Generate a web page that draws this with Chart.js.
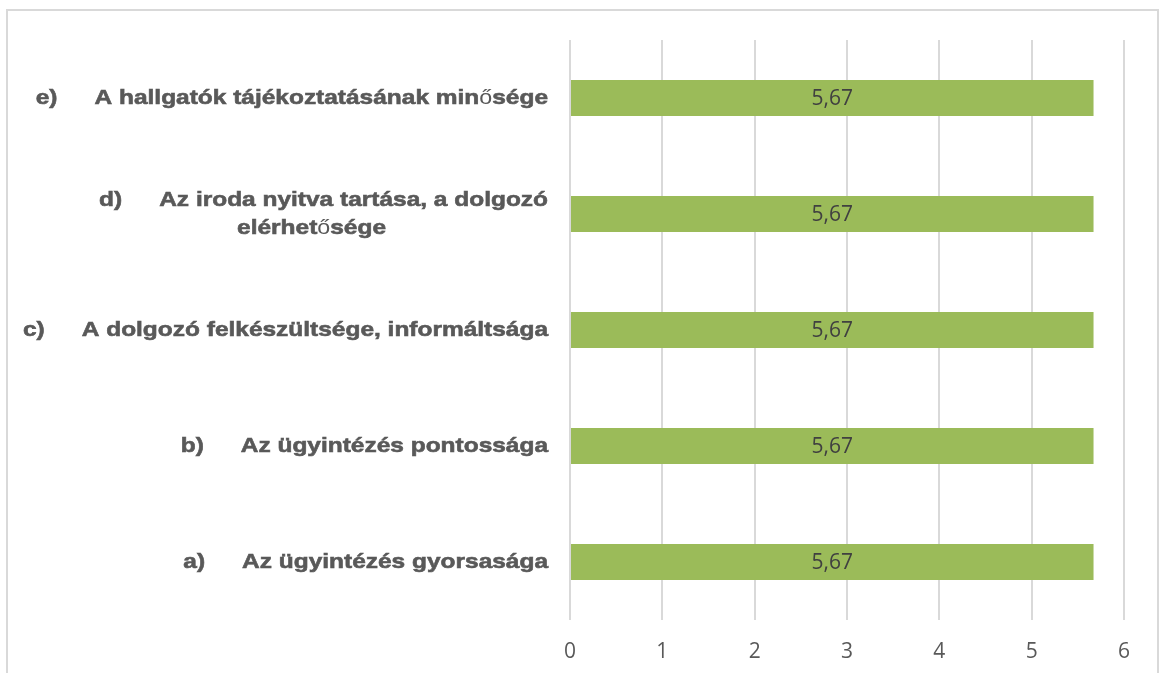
<!DOCTYPE html>
<html><head><meta charset="utf-8">
<script src="https://cdn.jsdelivr.net/npm/chart.js@4"></script>
<style>
html,body{margin:0;padding:0;background:#fff;overflow:hidden}
#wrap{position:relative;width:1159px;height:673px;overflow:hidden}
#frame{position:absolute;left:6px;top:9px;width:1153px;height:720px;border:2px solid #d9d9d9;box-sizing:border-box}
canvas{position:absolute;left:0;top:0}
</style></head><body>
<div id="wrap"><div id="frame"></div><canvas id="c" width="1159" height="673"></canvas></div>
<script>
// ---- data ----
const prefixes = ['a)', 'b)', 'c)', 'd)', 'e)'];
const labelLines = [
  ['Az ügyintézés gyorsasága'],
  ['Az ügyintézés pontossága'],
  ['A dolgozó felkészültsége, informáltsága'],
  ['Az iroda nyitva tartása, a dolgozó', 'elérhetősége'],
  ['A hallgatók tájékoztatásának minősége']
];
const values = [5.67, 5.67, 5.67, 5.67, 5.67];
const xMin = 0, xMax = 6, xStep = 1;

const categories = prefixes.map((p, i) => p + ' ' + labelLines[i].join(' '));

const BOLD = 'bold 21px "Liberation Sans"';
const REG = '20px "Liberation Sans"';
const SX = 1.165;
const LABEL_COLOR = '#595959';

function segs(s) {
  const out = [];
  let cur = '';
  for (const ch of s) {
    if (ch === 'ő' || ch === 'Ő') { if (cur) out.push([cur, BOLD, true]); out.push([ch, REG, false]); cur = ''; }
    else cur += ch;
  }
  if (cur) out.push([cur, BOLD, true]);
  return out;
}
function measureRich(ctx, s) {
  let w = 0;
  for (const [t, f] of segs(s)) { ctx.font = f; w += ctx.measureText(t).width * SX; }
  return w;
}
function drawText(ctx, t, x, y, heavy) {
  ctx.save();
  ctx.translate(x, y);
  ctx.scale(SX, 1);
  ctx.fillText(t, 0, 0);
  if (heavy) { ctx.lineWidth = 0.6; ctx.strokeStyle = LABEL_COLOR; ctx.strokeText(t, 0, 0); }
  ctx.restore();
}
function drawRich(ctx, s, xLeft, y) {
  let x = xLeft;
  for (const [t, f, heavy] of segs(s)) { ctx.font = f; drawText(ctx, t, x, y, heavy); x += ctx.measureText(t).width * SX; }
}

const yLabelPlugin = {
  id: 'yLabels',
  afterDraw(chart) {
    const ctx = chart.ctx;
    const ys = chart.scales.y;
    const right = ys.right - 22;
    const gap = 37;
    const lh = 28;
    ctx.save();
    ctx.fillStyle = LABEL_COLOR;
    ctx.textAlign = 'left';
    ctx.textBaseline = 'middle';
    for (let i = 0; i < categories.length; i++) {
      const yc = ys.getPixelForValue(i);
      const lines = labelLines[i];
      const y0 = yc - (lines.length - 1) * lh / 2;
      const w1 = measureRich(ctx, lines[0]);
      const textLeft = right - w1;
      ctx.font = BOLD;
      const pw = ctx.measureText(prefixes[i]).width * SX;
      const pLeft = textLeft - gap - pw;
      drawText(ctx, prefixes[i], pLeft, y0, true);
      drawRich(ctx, lines[0], textLeft, y0);
      const center = (pLeft + right) / 2 - 12;
      for (let k = 1; k < lines.length; k++) {
        const w = measureRich(ctx, lines[k]);
        drawRich(ctx, lines[k], center - w / 2, y0 + k * lh);
      }
    }
    ctx.restore();
  }
};

const valueLabelPlugin = {
  id: 'valueLabels',
  afterDatasetsDraw(chart) {
    const ctx = chart.ctx;
    const meta = chart.getDatasetMeta(0);
    ctx.save();
    ctx.font = '21px "Open Sans"';
    ctx.fillStyle = '#404040';
    ctx.textAlign = 'center';
    ctx.textBaseline = 'middle';
    meta.data.forEach((bar, i) => {
      const x = (bar.base + bar.x) / 2;
      ctx.fillText(values[i].toFixed(2).replace('.', ','), x, bar.y + 1);
    });
    ctx.restore();
  }
};

new Chart(document.getElementById('c'), {
  type: 'bar',
  data: {
    labels: categories,
    datasets: [{
      data: values,
      backgroundColor: '#9BBB59',
      borderWidth: 0,
      categoryPercentage: 1,
      barPercentage: 0.31
    }]
  },
  options: {
    indexAxis: 'y',
    responsive: false,
    animation: false,
    devicePixelRatio: 1,
    layout: { padding: { top: 40, right: 35, left: 0, bottom: 0 } },
    plugins: { legend: { display: false }, tooltip: { enabled: false } },
    scales: {
      x: {
        min: xMin, max: xMax,
        ticks: { stepSize: xStep, color: '#595959', font: { family: 'Open Sans', size: 21 }, padding: 19, maxRotation: 0, autoSkip: false },
        grid: { color: '#d9d9d9', lineWidth: 2, drawTicks: false },
        border: { display: false },
        afterFit(s) { s.height = 53; }
      },
      y: {
        reverse: true,
        ticks: { display: false },
        grid: { display: false, drawTicks: false },
        border: { display: false },
        afterFit(s) { s.width = 570; }
      }
    }
  },
  plugins: [yLabelPlugin, valueLabelPlugin]
});
</script>
</body></html>
